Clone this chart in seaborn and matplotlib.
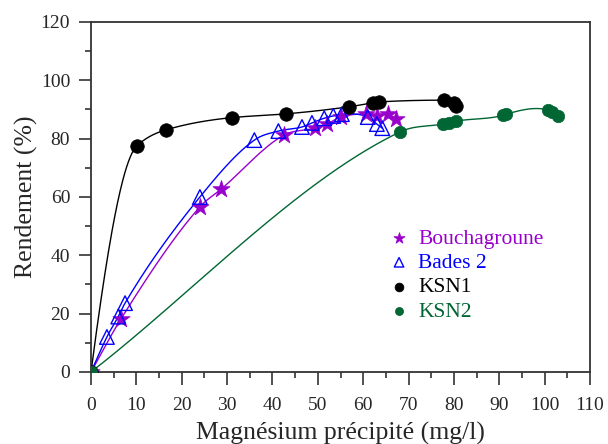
import numpy as np
import pandas as pd
import matplotlib
matplotlib.use("Agg")
import matplotlib.pyplot as plt
import seaborn as sns
from matplotlib.ticker import MultipleLocator


# values
bouch_x = [0, 6.6, 24, 28.7, 42.5, 49.4, 52, 55, 60.6, 63, 65.5, 67.2]
bouch_y = [0, 18.2, 56.6, 62.7, 81.2, 83.6, 85, 87.4, 88.4, 87.8, 88.4, 86.7]

bades_x = [0, 3.5, 6, 7.5, 24, 36, 41.3, 46.5, 48.7, 51.4, 53.4, 55.3, 61, 63, 64.2]
bades_y = [0, 12, 19, 23.6, 60, 79.5, 82.6, 84, 85.4, 87, 87.8, 88.4, 87.4, 85, 83.6]

ksn1_x = [0, 10.1, 16.5, 31, 43, 56.8, 62.2, 63.5, 77.8, 80.0, 80.4]
ksn1_y = [0, 77.5, 83, 87.2, 88.5, 90.9, 92.3, 92.6, 93.2, 92.3, 91.2]

ksn2_x = [0, 68.1, 77.6, 78.9, 80.5, 90.8, 91.4, 100.8, 101.6, 103]
ksn2_y = [0, 82.3, 85, 85.4, 86, 88, 88.4, 89.8, 89, 87.8]

labels = ["Bouchagroune", "Bades 2", "KSN1", "KSN2"]
colors = ["#9900cc", "#0000ff", "#000000", "#006633"]

x_ticks = list(range(0, 111, 10))
y_ticks = list(range(0, 121, 20))


def smooth_curve(x, y, xs, method="catmull"):
    """
    Cubic Hermite curve through the points (pchip or catmull-rom slopes)
    """
    x = np.asarray(x, float)
    y = np.asarray(y, float)
    h = np.diff(x)
    d = np.diff(y) / h
    n = len(x)
    m = np.zeros(n)
    if method == "pchip":
        for k in range(1, n - 1):
            if d[k - 1] * d[k] > 0:
                w1 = 2 * h[k] + h[k - 1]
                w2 = h[k] + 2 * h[k - 1]
                m[k] = (w1 + w2) / (w1 / d[k - 1] + w2 / d[k])
        m[0] = ((2 * h[0] + h[1]) * d[0] - h[0] * d[1]) / (h[0] + h[1])
        m[-1] = ((2 * h[-1] + h[-2]) * d[-1] - h[-1] * d[-2]) / (h[-1] + h[-2])
    else:
        m[1:-1] = (d[:-1] + d[1:]) / 2
        m[0] = d[0]
        m[-1] = d[-1]

    idx = np.clip(np.searchsorted(x, xs) - 1, 0, n - 2)
    t = (xs - x[idx]) / h[idx]
    h00 = 2 * t**3 - 3 * t**2 + 1
    h10 = t**3 - 2 * t**2 + t
    h01 = -2 * t**3 + 3 * t**2
    h11 = t**3 - t**2
    return (h00 * y[idx] + h10 * h[idx] * m[idx]
            + h01 * y[idx + 1] + h11 * h[idx] * m[idx + 1])


series = [
    (bouch_x, bouch_y, "*", 170, True, "catmull"),
    (bades_x, bades_y, "^", 110, False, "catmull"),
    (ksn1_x, ksn1_y, "o", 95, True, "pchip"),
    (ksn2_x, ksn2_y, "o", 80, True, "catmull"),
]

sns.set_theme(style="ticks")
plt.rcParams["font.family"] = ["Liberation Serif", "DejaVu Serif"]

fig = plt.figure(figsize=(6.08, 4.44), dpi=100)
ax = fig.add_axes([0.1497, 0.1622, 0.8208, 0.7883])

for (xv, yv, mk, sz, filled, method), lab, col in zip(series, labels, colors):
    xs = np.linspace(min(xv), max(xv), 400)
    curve = pd.DataFrame({"x": xs, "y": smooth_curve(xv, yv, xs, method)})
    sns.lineplot(data=curve, x="x", y="y", color=col, lw=1.0, ax=ax,
                 estimator=None, sort=False, zorder=2)
    pts = pd.DataFrame({"x": xv, "y": yv})
    if filled:
        sns.scatterplot(data=pts, x="x", y="y", marker=mk, s=sz,
                        color=col, edgecolor=col, linewidth=0.5,
                        ax=ax, zorder=3, label=lab)
    else:
        sns.scatterplot(data=pts, x="x", y="y", marker=mk, s=sz,
                        facecolor="none", edgecolor=col, linewidth=1.0,
                        ax=ax, zorder=3, label=lab)

ax.set_xlim(0, 110)
ax.set_ylim(0, 120)
ax.set_xticks(x_ticks)
ax.set_yticks(y_ticks)
ax.xaxis.set_minor_locator(MultipleLocator(5))
ax.yaxis.set_minor_locator(MultipleLocator(10))
ax.tick_params(axis="both", which="major", direction="out", length=9,
               width=1.2, color="#333333", labelsize=14)
ax.tick_params(axis="both", which="minor", direction="out", length=4.5,
               width=1.2, color="#333333")
ax.tick_params(axis="x", which="major", pad=9)
ax.tick_params(axis="y", which="major", pad=6)
ax.tick_params(top=False, right=False, which="both")
for sp in ax.spines.values():
    sp.set_color("#333333")
    sp.set_linewidth(1.3)

ax.set_xlabel("Magnésium précipité (mg/l)", fontsize=18.5, labelpad=6)
ax.set_ylabel("Rendement (%)", fontsize=18.5, labelpad=2)

h, l = ax.get_legend_handles_labels()
leg = ax.legend(h, l, loc="upper left", bbox_to_anchor=(0.6, 0.41),
                frameon=False, fontsize=15.5, handlelength=0.8,
                handletextpad=0.5, labelspacing=0.2, borderpad=0,
                borderaxespad=0, markerscale=0.65, labelcolor=colors)

fig.savefig("out.png", dpi=100)
